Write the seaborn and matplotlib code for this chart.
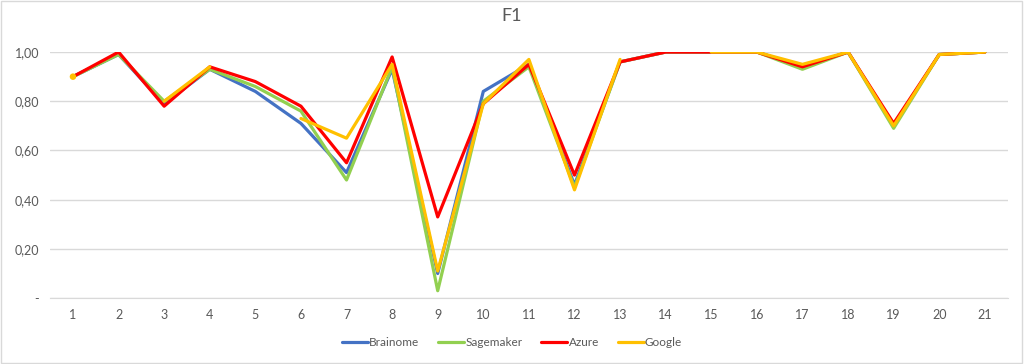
import numpy as np
import pandas as pd
import matplotlib
matplotlib.use("Agg")
import matplotlib.pyplot as plt
import seaborn as sns
from matplotlib.patches import Rectangle

datasets = list(range(1, 22))
brainome = [0.90, 0.99, 0.79, 0.93, 0.84, 0.71, 0.51, 0.93, 0.10, 0.84, 0.95,
            0.46, 0.96, 1.00, 1.00, 1.00, 0.94, 1.00, 0.70, 0.99, 1.00]
sagemaker = [0.90, 0.99, 0.80, 0.93, 0.86, 0.76, 0.48, 0.94, 0.03, 0.80, 0.94,
             0.45, 0.96, 1.00, 1.00, 1.00, 0.93, 1.00, 0.69, 0.99, 1.00]
azure = [0.90, 1.00, 0.78, 0.94, 0.88, 0.78, 0.55, 0.98, 0.33, 0.79, 0.95,
         0.50, 0.96, 1.00, 1.00, 1.00, 0.94, 1.00, 0.71, 0.99, 1.00]
google = [0.90, np.nan, 0.80, 0.94, np.nan, 0.73, 0.65, 0.95, 0.11, 0.79, 0.97,
          0.44, 0.97, np.nan, 1.00, 1.00, 0.95, 1.00, 0.70, 0.99, 1.00]
yticks = [0, 0.2, 0.4, 0.6, 0.8, 1.0]
ytick_labels = ["-", "0,20", "0,40", "0,60", "0,80", "1,00"]

series = {"Brainome": brainome, "Sagemaker": sagemaker, "Azure": azure, "Google": google}
colors = {"Brainome": "#4472C4", "Sagemaker": "#92D050", "Azure": "#FF0000", "Google": "#FFC000"}

# long form, with a segment id so gaps (missing values) stay as gaps
rows = []
for name, vals in series.items():
    seg = 0
    for x, v in zip(datasets, vals):
        if np.isnan(v):
            seg += 1
            continue
        rows.append({"dataset": x, "F1": v, "model": name, "seg": seg})
df = pd.DataFrame(rows)
counts = df.groupby(["model", "seg"])["F1"].transform("size")
isolated = df[counts == 1]

sns.set_style("white")
plt.rcParams["font.family"] = ["Lato", "DejaVu Sans"]

fig = plt.figure(figsize=(10.24, 3.64), dpi=100)
ax = fig.add_axes([0.049, 0.181, 0.935, 0.676])

sns.lineplot(data=df, x="dataset", y="F1", hue="model", units="seg",
             estimator=None, sort=False, palette=colors, linewidth=2.3,
             hue_order=list(series), ax=ax, legend=False,
             solid_joinstyle="round", solid_capstyle="round")
sns.scatterplot(data=isolated, x="dataset", y="F1", hue="model", palette=colors,
                s=22, edgecolor="none", ax=ax, legend=False, zorder=5)

ax.set_xlim(0.5, 21.5)
ax.set_ylim(0, 1.0)
ax.set_xticks(datasets)
ax.set_xticklabels([str(d) for d in datasets])
ax.set_yticks(yticks)
ax.set_yticklabels(ytick_labels)
ax.yaxis.grid(True, color="#D9D9D9", linewidth=1)
ax.set_axisbelow(True)
for s in ["top", "right", "left"]:
    ax.spines[s].set_visible(False)
ax.spines["bottom"].set_color("#D9D9D9")
ax.tick_params(axis="both", length=0, labelsize=9, colors="#595959", pad=8)
ax.set_xlabel("")
ax.set_ylabel("")

fig.text(0.5, 0.955, "F1", ha="center", va="center", fontsize=13, color="#595959")

handles = [plt.Line2D([], [], color=colors[n], linewidth=2.3) for n in series]
fig.legend(handles, list(series), loc="center", bbox_to_anchor=(0.5, 0.058), ncol=4,
           frameon=False, fontsize=8.5, handlelength=2.2, handletextpad=0.1,
           columnspacing=1.6, labelcolor="#595959")

fig.patches.append(Rectangle((0.001, 0.002), 0.997, 0.995, transform=fig.transFigure,
                             fill=False, edgecolor="#D9D9D9", linewidth=1))

fig.savefig("out.png", dpi=100)
